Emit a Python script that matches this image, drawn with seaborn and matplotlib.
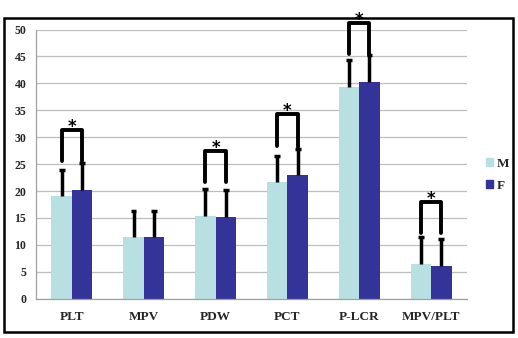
import matplotlib
matplotlib.use("Agg")
import matplotlib.pyplot as plt
import matplotlib.patches as mpatches
import numpy as np
import pandas as pd
import seaborn as sns

categories = ["PLT", "MPV", "PDW", "PCT", "P-LCR", "MPV/PLT"]
m_vals = [19.0, 11.4, 15.4, 21.6, 39.3, 6.5]
f_vals = [20.1, 11.4, 15.2, 22.9, 40.2, 6.1]
m_err = [4.9, 4.8, 4.9, 4.9, 5.0, 5.0]
f_err = [5.1, 4.8, 5.0, 4.9, 5.1, 5.0]
sig_cats = ["PLT", "PDW", "PCT", "P-LCR", "MPV/PLT"]
bracket_top = [31.4, 27.4, 34.3, 51.2, 18.0]
leg_left = [25.6, 21.6, 28.4, 45.4, 12.2]
leg_right = [25.5, 21.6, 28.1, 45.3, 12.2]
groups = ["M", "F"]
colors = ["#B8DFE1", "#333399"]

df = pd.DataFrame({
    "cat": categories * 2,
    "sex": ["M"] * len(categories) + ["F"] * len(categories),
    "val": m_vals + f_vals,
    "err": m_err + f_err,
})

sns.set_theme(style="white")
plt.rcParams["font.family"] = ["Liberation Serif", "DejaVu Serif"]

fig = plt.figure(figsize=(5.18, 3.38), dpi=100)
ax = fig.add_axes([36 / 518, 1 - 298.7 / 338, (467 - 36) / 518, (298.7 - 29.5) / 338])

sns.barplot(data=df, x="cat", y="val", hue="sex", order=categories, hue_order=groups,
            palette=colors, width=0.57, errorbar=None, ax=ax, saturation=1, legend=False,
            linewidth=0)

# error bars (upper only, with cap at top)
cap_half = 0.04
n = len(categories)
for patch_group, g in zip([ax.patches[:n], ax.patches[n:2 * n]], groups):
    sub = df[df.sex == g].set_index("cat").loc[categories]
    for p, v, e in zip(patch_group, sub.val, sub.err):
        xc = p.get_x() + p.get_width() / 2
        ax.plot([xc, xc], [v, v + e], color="black", lw=2.5, zorder=3,
                solid_capstyle="butt")
        ax.plot([xc - cap_half, xc + cap_half], [v + e, v + e], color="black",
                lw=2.5, zorder=3, solid_capstyle="butt")

# significance brackets
w = 0.57 / 2
for c, top, ll, lr in zip(sig_cats, bracket_top, leg_left, leg_right):
    i = categories.index(c)
    xl = i - w / 2
    xr = i + w / 2
    ax.plot([xl, xl, xr, xr], [ll, top, top, lr], color="black", lw=2.8,
            solid_joinstyle="round", clip_on=False, zorder=4)
    ax.text(i, top - 1.1, "*", ha="center", va="bottom", fontsize=12,
            fontweight="bold", color="black", clip_on=False,
            family=["DejaVu Sans"])

ax.set_ylim(0, 50)
ax.set_xlim(-0.5, n - 0.5)
ax.set_yticks(np.arange(0, 51, 5))
ax.yaxis.grid(True, color="#BEBEBE", lw=0.9)
ax.set_axisbelow(True)
ax.set_xlabel("")
ax.set_ylabel("")
for s in ["top", "right"]:
    ax.spines[s].set_visible(False)
for s in ["left", "bottom"]:
    ax.spines[s].set_color("#A0A0A0")
    ax.spines[s].set_linewidth(0.9)
ax.set_xticks(range(n))
ax.set_xticklabels(categories, fontweight="bold", fontsize=9.5)
ax.set_xticks(np.arange(-0.5, n, 1), minor=True)
ax.tick_params(axis="x", which="major", length=0, pad=9)
ax.tick_params(axis="x", which="minor", length=4, color="#A0A0A0", width=0.9, direction="out")
ax.tick_params(axis="y", length=3, color="#A0A0A0", width=0.9, direction="out", pad=4)
for lab in ax.get_yticklabels():
    lab.set_fontweight("bold")
    lab.set_fontsize(8.5)

handles = [mpatches.Patch(color=c, label=g) for g, c in zip(groups, colors)]
fig.legend(handles=handles, loc="center left", bbox_to_anchor=(474 / 518, 1 - 175 / 338),
           frameon=False, handlelength=0.55, handleheight=0.55, handletextpad=0.3,
           labelspacing=0.75, prop={"family": "Liberation Serif", "weight": "bold", "size": 9.5})

fig.patches.append(mpatches.Rectangle((3.5 / 518, 1 - 331.5 / 338), 509.5 / 518, 314 / 338,
                                      transform=fig.transFigure, fill=False,
                                      edgecolor="black", lw=1.8))

fig.savefig("out.png", dpi=100)
